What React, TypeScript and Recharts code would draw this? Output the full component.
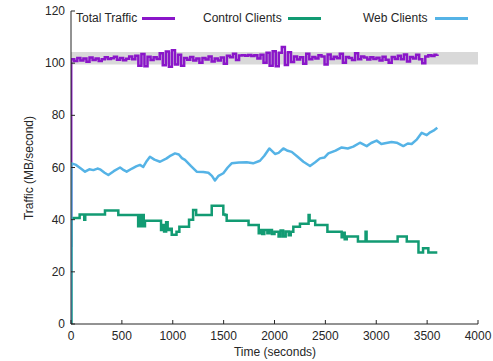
import { Line, LineChart, ReferenceArea, XAxis, YAxis } from 'recharts';

const FONT = '"Liberation Sans", Arial, Helvetica, sans-serif';
const INK = '#262626';

const TOTAL_COLOR = '#8a16c9';
const CONTROL_COLOR = '#129b73';
const WEB_COLOR = '#55b3e6';

const xTicks = [0, 500, 1000, 1500, 2000, 2500, 3000, 3500, 4000];
const yTicks = [0, 20, 40, 60, 80, 100, 120];

// shaded band behind total traffic
const bandLow = 99.5;
const bandHigh = 104.3;

// total traffic: ramp-up sample, then one sample every 30 s
const totalStart = { t: 0, v: 30 };
const totalFirstSample = 2;
const totalStep = 30;
const totalTraffic = [
    101.5, 100.8, 102, 101, 101.8, 100.5, 102.2, 101.2, 101.8, 100.8,
    101.5, 102.3, 101.6, 101.9, 102.5, 101.3, 102, 101.1, 101.7, 102.6,
    101.5, 102.8, 99, 103.5, 98.8, 102.5, 101.2, 102.3, 101.6, 103.8,
    99.2, 104.5, 98.6, 105, 99.5, 103.2, 99, 102, 101.3, 102.4,
    101, 101.8, 100.2, 102, 101.4, 102.6, 100.6, 101.8, 101, 102.2,
    99.8, 102.8, 102.3, 103.6, 101.2, 102.9, 103, 102.8, 103.1, 102.7,
    103, 101.8, 103.2, 100.2, 104, 99, 104.6, 98.8, 104, 106.2,
    99.3, 104.2, 100.4, 102.6, 101.4, 102.3, 99.8, 103.6, 101.5, 102.4,
    101.8, 103, 102.6, 99.5, 103.3, 101.6, 102.5, 101.9, 103.6, 100.2,
    102.4, 102, 101.2, 103.8, 101.5, 102.6, 102.2, 101.4, 102.3, 101.6,
    102.1, 101, 102.5, 101.3, 100.2, 102.4, 101.6, 102.8, 101.5, 103.3,
    100.6, 102.4, 101.8, 103.2, 101.5, 100, 102.6, 103, 102.7, 103.2,
    103.3,
];

const controlTimes = [
    0, 5, 70, 85, 120, 130, 140, 318, 334, 432, 465, 645, 660, 670, 690, 700, 715, 727,
    874, 885, 900, 915, 935, 950, 972, 990, 1037, 1065, 1150, 1160, 1200, 1230, 1290,
    1383, 1480, 1497, 1515, 1530, 1745, 1845, 1870, 1880, 1900, 1930, 1950, 1975, 2000,
    2040, 2060, 2085, 2110, 2140, 2160, 2185, 2250, 2335, 2345, 2400, 2520, 2660, 2680,
    2690, 2710, 2820, 2895, 2905, 3210, 3300, 3415, 3460, 3512, 3600,
];
const controlClients = [
    0, 40.6, 40.6, 42, 42, 40, 42, 42, 43.5, 43.5, 41.8, 41.8, 37.5, 41.8, 37.5, 41.8, 37.5, 39.6,
    39.6, 36, 38, 35.5, 39, 36, 36.5, 34.2, 35.4, 37.3, 37.3, 40, 43.7, 41.8, 41.8,
    45.3, 45.3, 42, 41.8, 39.6, 38, 34.8, 36, 34.5, 36, 34.8, 36, 34.5, 35.4,
    33.5, 35.8, 33.5, 35.5, 34, 35.4, 37.3, 38.4, 41.8, 39.6, 38, 35.4, 33.3, 35,
    32.5, 33.5, 31.6, 35.4, 31.6, 33.5, 31.6, 27.4, 29, 27.4, 27.4,
];

const webTimes = [
    0, 5, 50, 100, 138, 180, 220, 260, 285, 330, 367, 420, 482, 510, 547, 600, 640, 678,
    710, 745, 776, 820, 875, 940, 980, 1022, 1060, 1090, 1120, 1180, 1235, 1300, 1350,
    1385, 1415, 1450, 1497, 1540, 1579, 1650, 1727, 1790, 1857, 1900, 1949, 2005, 2040,
    2087, 2130, 2169, 2230, 2284, 2349, 2400, 2447, 2490, 2529, 2600, 2660, 2720, 2774,
    2840, 2906, 2950, 3004, 3050, 3086, 3150, 3201, 3266, 3310, 3348, 3400, 3447, 3496,
    3530, 3562, 3600,
];
const webClients = [
    0, 61.6, 61, 59.5, 58.4, 59.3, 59, 59.6, 59.3, 58, 57.1, 58.6, 60, 59.2, 58.4, 59.6, 60.4, 61,
    60.2, 62.5, 64.1, 63, 62.2, 63.5, 64.6, 65.4, 65, 63.6, 62.9, 60.5, 58.4, 58.3, 58,
    56.8, 55, 56.8, 57.8, 60, 61.6, 61.9, 62, 61.6, 62.6, 64.5, 67.3, 65.2, 65.6,
    67.3, 66.4, 66, 64, 62.2, 60.6, 62, 63.5, 63.8, 65.4, 66.5, 67.7, 67.3, 68,
    69.5, 68.2, 69.4, 70.3, 69, 69.3, 69.8, 69.5, 68.2, 69.2, 69, 70.8, 73.3, 72.4,
    73.5, 74.1, 75.2,
];

const totalData = [
    totalStart,
    ...totalTraffic.map((v, i) => ({ t: totalFirstSample + i * totalStep, v })),
];
const controlData = controlTimes.map((t, i) => ({ t, v: controlClients[i] }));
const webData = webTimes.map((t, i) => ({ t, v: webClients[i] }));

const legendItems = [
    { label: 'Total Traffic', color: TOTAL_COLOR, textLeft: 76, lineLeft: 142 },
    { label: 'Control Clients', color: CONTROL_COLOR, textLeft: 203, lineLeft: 288 },
    { label: 'Web Clients', color: WEB_COLOR, textLeft: 363, lineLeft: 435 },
];

const TICK_LEN = 4;

const XTick = ({ x, y, payload }: { x?: number; y?: number; payload?: { value: number } }) => {
    if (x == null || y == null || !payload) return null;
    return (
        <g>
            <line x1={x} y1={y} x2={x} y2={y - TICK_LEN} stroke={INK} strokeWidth={1} />
            <text
                x={x}
                y={y + 12}
                textAnchor='middle'
                dominantBaseline='central'
                fill={INK}
                fontSize={12}
                fontFamily={FONT}
            >
                {payload.value}
            </text>
        </g>
    );
};

const YTick = ({ x, y, payload }: { x?: number; y?: number; payload?: { value: number } }) => {
    if (x == null || y == null || !payload) return null;
    return (
        <g>
            <line x1={x} y1={y} x2={x + TICK_LEN} y2={y} stroke={INK} strokeWidth={1} />
            <text
                x={x - 6}
                y={y}
                textAnchor='end'
                dominantBaseline='central'
                fill={INK}
                fontSize={12}
                fontFamily={FONT}
            >
                {payload.value}
            </text>
        </g>
    );
};

export default function App() {
    return (
        <div
            style={{
                position: 'absolute',
                left: 0,
                top: 0,
                width: 493,
                height: 361,
                background: '#fff',
                fontFamily: FONT,
                color: INK,
            }}
        >
            <LineChart
                width={493}
                height={361}
                margin={{ top: 11, right: 15, bottom: 0, left: 0 }}
            >
                <ReferenceArea
                    x1={0}
                    x2={4000}
                    y1={bandLow}
                    y2={bandHigh}
                    fill='#d9d9d9'
                    fillOpacity={1}
                    stroke='none'
                />
                <XAxis
                    type='number'
                    dataKey='t'
                    domain={[0, 4000]}
                    ticks={xTicks}
                    interval={0}
                    height={37}
                    tickSize={0}
                    tickMargin={0}
                    tickLine={false}
                    axisLine={{ stroke: INK, strokeWidth: 1 }}
                    tick={<XTick />}
                    allowDataOverflow
                />
                <YAxis
                    type='number'
                    domain={[0, 120]}
                    ticks={yTicks}
                    interval={0}
                    width={71}
                    tickSize={0}
                    tickMargin={0}
                    tickLine={false}
                    axisLine={{ stroke: INK, strokeWidth: 1 }}
                    tick={<YTick />}
                    allowDataOverflow
                />
                <Line
                    data={totalData}
                    dataKey='v'
                    type='stepAfter'
                    stroke={TOTAL_COLOR}
                    strokeWidth={2.5}
                    dot={false}
                    isAnimationActive={false}
                />
                <Line
                    data={controlData}
                    dataKey='v'
                    type='stepAfter'
                    stroke={CONTROL_COLOR}
                    strokeWidth={2.5}
                    dot={false}
                    isAnimationActive={false}
                />
                <Line
                    data={webData}
                    dataKey='v'
                    type='linear'
                    stroke={WEB_COLOR}
                    strokeWidth={2.5}
                    strokeLinejoin='round'
                    dot={false}
                    isAnimationActive={false}
                />
            </LineChart>

            {legendItems.map((item) => (
                <div key={item.label}>
                    <div
                        style={{
                            position: 'absolute',
                            left: item.textLeft,
                            top: 11,
                            fontSize: 12,
                            lineHeight: '14px',
                            whiteSpace: 'nowrap',
                        }}
                    >
                        {item.label}
                    </div>
                    <div
                        style={{
                            position: 'absolute',
                            left: item.lineLeft,
                            top: 17,
                            width: 33,
                            height: 2.5,
                            background: item.color,
                        }}
                    />
                </div>
            ))}

            <div
                style={{
                    position: 'absolute',
                    left: 175,
                    top: 345,
                    width: 200,
                    textAlign: 'center',
                    fontSize: 12,
                    lineHeight: '14px',
                }}
            >
                Time (seconds)
            </div>
            <div
                style={{
                    position: 'absolute',
                    left: -71,
                    top: 161,
                    width: 200,
                    textAlign: 'center',
                    fontSize: 12,
                    lineHeight: '14px',
                    transform: 'rotate(-90deg)',
                }}
            >
                Traffic (MB/second)
            </div>
        </div>
    );
}
